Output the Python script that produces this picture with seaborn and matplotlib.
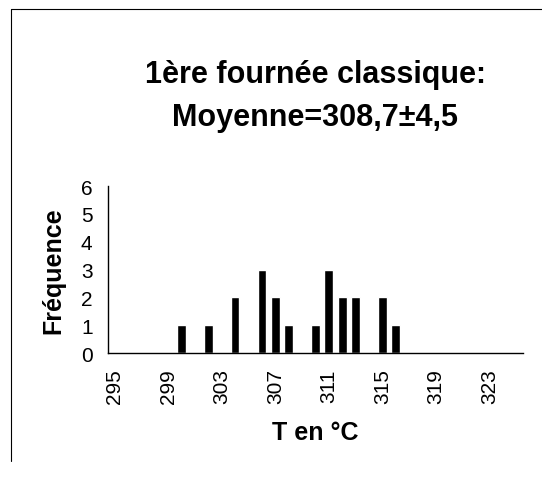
import numpy as np
import pandas as pd
import matplotlib
matplotlib.use("Agg")
import matplotlib.pyplot as plt
import seaborn as sns
from matplotlib.lines import Line2D

# ==============================
# Données
# ==============================
temperatures = list(range(295, 326))
frequences = [0, 0, 0, 0, 0, 1, 0, 1, 0, 2, 0, 3, 2, 1, 0, 1,
              3, 2, 2, 0, 2, 1, 0, 0, 0, 0, 0, 0, 0, 0, 0]
tick_labels = [str(t) for t in range(295, 326, 4)]
titre = "1ère fournée classique:\nMoyenne=308,7±4,5"

df = pd.DataFrame({"T": [str(t) for t in temperatures], "Freq": frequences})

# ==============================
# Style
# ==============================
sns.set_theme(style="white")
plt.rcParams["font.family"] = ["Liberation Sans", "DejaVu Sans"]
plt.rcParams["text.color"] = "black"
plt.rcParams["axes.labelcolor"] = "black"

fig = plt.figure(figsize=(5.42, 4.81), dpi=100)
ax = fig.add_axes([0.199, 0.264, 0.766, 0.347])

sns.barplot(data=df, x="T", y="Freq", order=df["T"], color="black",
            width=0.65, saturation=1, ax=ax)

ax.set_xlim(-0.5, len(temperatures) - 0.5)
ax.set_ylim(0, 6)
ax.set_yticks(range(0, 7))
ax.set_yticklabels([str(i) for i in range(0, 7)], fontsize=15)

pos = [temperatures.index(int(t)) for t in tick_labels]
ax.set_xticks(pos)
ax.set_xticklabels(tick_labels, rotation=90, fontsize=15)
ax.set_xticks(range(len(temperatures)), minor=True)

ax.tick_params(axis="x", which="both", direction="in", length=3, width=0.8,
               colors="black", pad=11)
ax.tick_params(axis="y", direction="inout", length=4, width=0.8,
               colors="black", pad=9)

for s in ["top", "right"]:
    ax.spines[s].set_visible(False)
for s in ["left", "bottom"]:
    ax.spines[s].set_color("black")
    ax.spines[s].set_linewidth(1.0)

ax.set_xlabel("T en °C", fontsize=18, fontweight="bold", labelpad=12)
ax.set_ylabel("Fréquence", fontsize=18, fontweight="bold", labelpad=11)

fig.text(0.582, 0.800, titre, ha="center", va="center", fontsize=22,
         fontweight="bold", linespacing=1.55)

# cadre partiel (bords haut et gauche)
fig.add_artist(Line2D([0.02, 1.0], [0.979, 0.979], color="black", lw=0.8))
fig.add_artist(Line2D([0.02, 0.02], [0.04, 0.979], color="black", lw=0.8))

fig.savefig("out.png", dpi=100)
